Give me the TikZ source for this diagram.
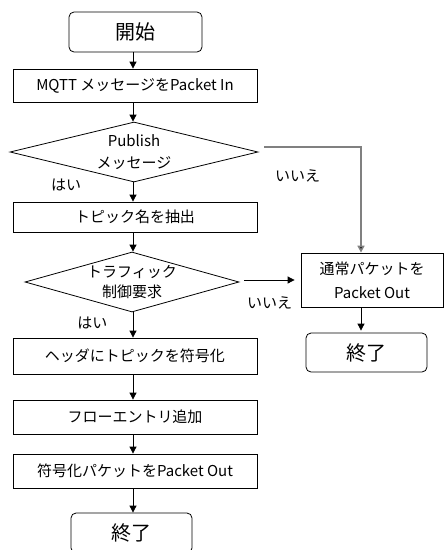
\documentclass[tikz,border=0pt]{standalone}
\usepackage{fontspec}
\setmainfont{Noto Sans CJK JP}
\usetikzlibrary{shapes.geometric,arrows.meta}
\begin{document}
\begin{tikzpicture}[x=1pt,y=-1pt,
  base/.style={draw, line width=0.8pt, inner sep=0pt, font=\fontsize{15}{18}\selectfont, align=center},
  box/.style={base, minimum width=244pt, minimum height=34pt},
  term/.style={base, rounded corners=5pt, font=\fontsize{20}{24}\selectfont},
  dia/.style={base, shape=diamond, aspect=4},
  lbl/.style={inner sep=0pt, font=\fontsize{15}{18}\selectfont},
  arr/.style={line width=0.8pt, -{Triangle[length=7pt,width=7pt]}},
  garr/.style={line width=1.6pt, draw={rgb,255:red,128;green,128;blue,128}, -{Triangle[length=7pt,width=7pt,fill=black]}}
]
\useasboundingbox (0,0) rectangle (444,550);
\node[term, minimum width=133pt, minimum height=40pt] (start) at (135.5,32) {開始};
\node[box, minimum height=33pt] (mqtt) at (135,85.5) {MQTT メッセージをPacket In};
\node[dia, minimum width=248pt, minimum height=60pt,
  label={[font=\fontsize{15}{22}\selectfont, align=center]center:Publish\\メッセージ}] (d1) at (134,152) {};
\node[box, minimum height=30pt] (topic) at (135,217) {トピック名を抽出};
\node[dia, minimum width=214pt, minimum height=60pt,
  label={[font=\fontsize{15}{20}\selectfont, align=center]center:トラフィック\\制御要求}] (d2) at (132,282) {};
\node[box, minimum height=36pt] (enc) at (135,356) {ヘッダにトピックを符号化};
\node[box] (flow) at (135,417) {フローエントリ追加};
\node[box] (out) at (135,471) {符号化パケットをPacket Out};
\node[term, minimum width=121pt, minimum height=40pt] (end1) at (131.5,533) {終了};
\node[base, minimum width=142pt, minimum height=54pt, font=\fontsize{15}{24}\selectfont] (normal) at (372,280) {通常パケットを\\Packet Out};
\node[term, minimum width=121pt, minimum height=39pt] (end2) at (366.5,352.5) {終了};

\node[lbl] (y1) at (66,185) {はい};
\node[lbl] (n1) at (297.5,176) {いいえ};
\node[lbl] (y2) at (92.5,323) {はい};
\node[lbl] (n2) at (269.5,303) {いいえ};

\coordinate (ax) at (133,0);
\coordinate (bx) at (361,0);
\draw[arr] (start.south -| ax) -- (mqtt.north -| ax);
\draw[arr] (mqtt.south -| ax) -- (d1.north -| ax);
\draw[arr] (d1.south -| ax) -- (topic.north -| ax);
\draw[arr] (topic.south -| ax) -- (d2.north -| ax);
\draw[arr] (d2.south -| ax) -- (enc.north -| ax);
\draw[arr] (enc.south -| ax) -- (flow.north -| ax);
\draw[arr] (flow.south -| ax) -- (out.north -| ax);
\draw[arr] (out.south -| ax) -- (end1.north -| ax);
\draw[arr] (normal.south -| bx) -- ([yshift=2pt]end2.north -| bx);
\coordinate (c1) at (361,147);
\draw[garr] ([shift={(6,-5)}]d1.east) -- (c1) -- (c1 |- normal.north);
\draw[arr] ([xshift=5pt]d2.east |- normal.west) -- ([xshift=-6pt]normal.west);
\end{tikzpicture}
\end{document}
